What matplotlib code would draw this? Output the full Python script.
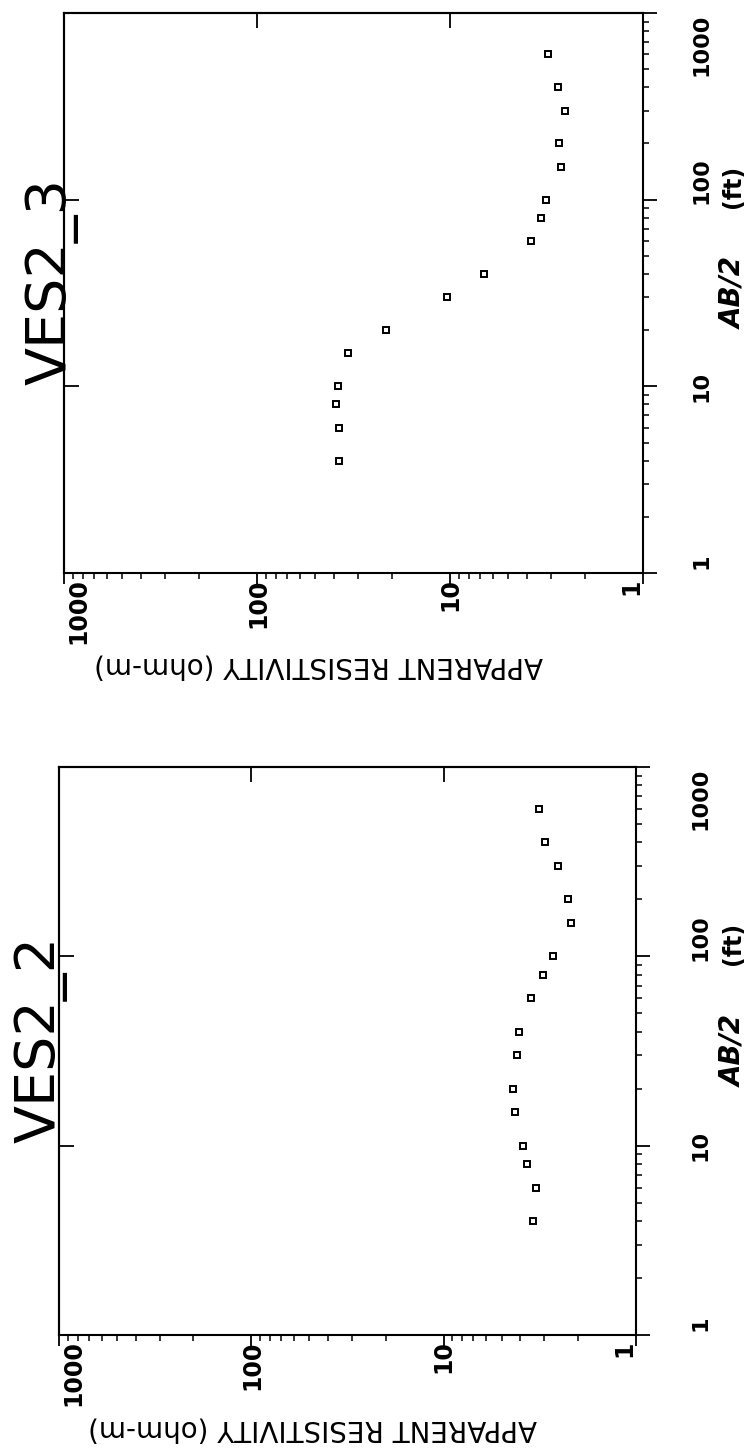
import matplotlib
matplotlib.use('Agg')
import matplotlib.pyplot as plt
import matplotlib.transforms as mtransforms
from matplotlib.ticker import FixedLocator, LogLocator, NullLocator, NullFormatter
import numpy as np

# AB/2 spacings (ft), same for both soundings
ab2 = [4, 6, 8, 10, 15, 20, 30, 40, 60, 80, 100, 150, 200, 300, 400, 600]

# apparent resistivity (ohm-m)
rho_ves2_3 = [37.6, 37.6, 39.0, 38.0, 33.8, 21.5, 10.4, 6.7, 3.8, 3.37, 3.18,
              2.66, 2.72, 2.54, 2.75, 3.1]
rho_ves2_2 = [3.42, 3.32, 3.68, 3.85, 4.24, 4.34, 4.15, 4.05, 3.52, 3.04, 2.70,
              2.18, 2.26, 2.53, 2.99, 3.18]

rho_ticks = [1000, 100, 10, 1]
rho_labels = ['1000', '100', '10', '1']
ab_ticks = [1, 10, 100, 1000]
ab_labels = ['1', '10', '100', '1000']

DPI = 100
fig = plt.figure(figsize=(7.49, 14.52), dpi=DPI)


def panel(rect, rho, title, title_x, ylab_pad, lab_x):
    ax = fig.add_axes(rect)
    ax.plot(rho, ab2, linestyle='none', marker='s', ms=4.6, mfc='white',
            mec='black', mew=1.4)
    ax.set_xscale('log')
    ax.set_yscale('log')
    ax.set_xlim(1000, 1)
    ax.set_ylim(1, 1000)
    for s in ax.spines.values():
        s.set_linewidth(1.5)

    # resistivity axis (bottom)
    ax.xaxis.set_ticks_position('bottom')
    ax.xaxis.set_major_locator(FixedLocator(rho_ticks))
    ax.xaxis.set_minor_locator(LogLocator(base=10, subs=np.arange(2, 10)))
    ax.xaxis.set_minor_formatter(NullFormatter())
    ax.set_xticklabels(rho_labels)
    ax.tick_params(axis='x', which='major', direction='out', length=8,
                   width=1.3, pad=-4, labelsize=17)
    ax.tick_params(axis='x', which='minor', direction='out', length=4, width=1.1)
    for lbl, dx in zip(ax.get_xticklabels(), [14, 1, 0, -12]):
        lbl.set_rotation(90)
        lbl.set_fontweight('bold')
        lbl.set_ha('center')
        lbl.set_transform(lbl.get_transform() +
                          mtransforms.ScaledTranslation(dx / DPI, 0, fig.dpi_scale_trans))

    # AB/2 axis (right)
    ax.yaxis.set_ticks_position('right')
    ax.yaxis.set_major_locator(FixedLocator(ab_ticks))
    ax.yaxis.set_minor_locator(LogLocator(base=10, subs=np.arange(2, 10)))
    ax.yaxis.set_minor_formatter(NullFormatter())
    ax.set_yticklabels(ab_labels)
    ax.tick_params(axis='y', which='major', direction='out', length=10,
                   width=1.3, pad=ylab_pad, labelsize=16)
    ax.tick_params(axis='y', which='minor', direction='out', length=4, width=1.1)
    for lbl, dy in zip(ax.get_yticklabels(), [12, 0, 19, -32]):
        lbl.set_rotation(90)
        lbl.set_fontweight('bold')
        lbl.set_va('center')
        lbl.set_transform(lbl.get_transform() +
                          mtransforms.ScaledTranslation(0, dy / DPI, fig.dpi_scale_trans))

    # inward major ticks on the other two sides
    top = ax.secondary_xaxis('top')
    top.xaxis.set_major_locator(FixedLocator([100, 10]))
    top.xaxis.set_minor_locator(NullLocator())
    top.tick_params(direction='in', length=11, width=1.3, labeltop=False)
    top.spines['top'].set_linewidth(1.5)
    left = ax.secondary_yaxis('left')
    left.yaxis.set_major_locator(FixedLocator([10, 100]))
    left.yaxis.set_minor_locator(NullLocator())
    left.tick_params(direction='in', length=11, width=1.3, labelleft=False)
    left.spines['left'].set_linewidth(1.5)

    ax.text(0.44, -0.165, 'APPARENT RESISTIVITY (ohm-m)', rotation=180,
            ha='center', va='center', fontsize=20, transform=ax.transAxes)
    ax.text(lab_x, 0.5, 'AB/2', rotation=90, ha='center', va='center',
            fontsize=20, fontweight='bold', fontstyle='italic',
            transform=ax.transAxes)
    ax.text(lab_x, 0.69, '(ft)', rotation=90, ha='center', va='center',
            fontsize=17, fontweight='bold', transform=ax.transAxes)
    ax.text(title_x, 0.52, title, rotation=90, rotation_mode='anchor',
            ha='center', va='baseline', fontsize=40, transform=ax.transAxes)
    return ax


panel([64 / 749, 1 - 573 / 1452, 579 / 749, 560 / 1452], rho_ves2_3,
      'VES2_3', 0.003, 25, 1.156)
panel([59 / 749, 1 - 1335 / 1452, 577 / 749, 568 / 1452], rho_ves2_2,
      'VES2_2', -0.008, 29, 1.168)

fig.savefig('out.png', dpi=DPI)
